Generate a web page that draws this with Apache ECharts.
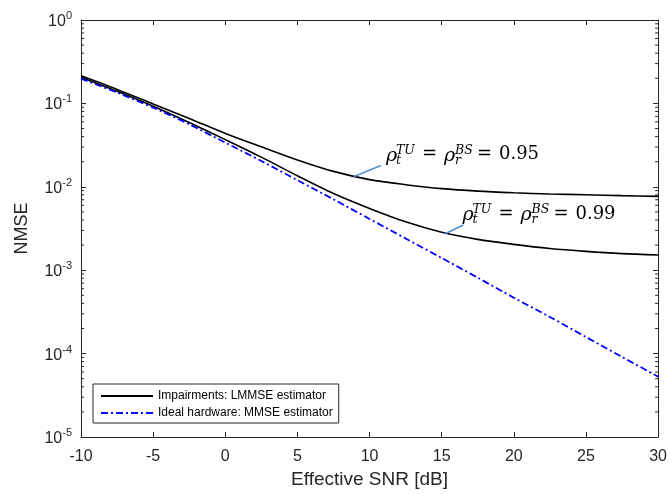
<!DOCTYPE html>
<html>
<head>
<meta charset="utf-8">
<script src="https://cdn.jsdelivr.net/npm/echarts@6/dist/echarts.min.js"></script>
<style>
html,body{margin:0;padding:0;background:#fff;}
#chart{width:670px;height:494px;}
</style>
</head>
<body>
<div id="chart"></div>
<script>
// Effective SNR [dB]
const snrDb = [-10, -7.5, -5, -2.5, 0, 2.5, 5, 7.5, 10, 12.5, 15, 17.5, 20, 22.5, 25, 27.5, 30];
// Impairments, rho = 0.95
const nmseImp095 = [0.214, 0.147, 0.0985, 0.0661, 0.0437, 0.0302, 0.0210, 0.0153, 0.0122, 0.0106, 0.00950, 0.00887, 0.00848, 0.00820, 0.00802, 0.00784, 0.00767];
// Impairments, rho = 0.99
const nmseImp099 = [0.2065, 0.1396, 0.0925, 0.0590, 0.0368, 0.0227, 0.01355, 0.00830, 0.00550, 0.00380, 0.00285, 0.00234, 0.00204, 0.00182, 0.00168, 0.00158, 0.00152];
// Ideal hardware
const nmseIdeal = [0.1977, 0.1349, 0.0891, 0.0562, 0.0339, 0.0204, 0.0120, 0.00708, 0.00412, 0.00240, 0.00140, 0.000813, 0.000468, 0.000275, 0.000158, 0.0000912, 0.0000530];

const xTicks = [-10, -5, 0, 5, 10, 15, 20, 25, 30];
const seriesNames = ['Impairments: LMMSE estimator', 'Ideal hardware: MMSE estimator'];

const axisColor = '#262626';
const font = 'Liberation Sans, Arial, sans-serif';

const minorVals = [];
for (let e = -5; e <= -1; e++) {
  for (let m = 2; m <= 9; m++) minorVals.push([-10, m * Math.pow(10, e)]);
}

function pairs(ys) { return snrDb.map((x, i) => [x, ys[i]]); }

const chart = echarts.init(document.getElementById('chart'), null, {renderer: 'canvas'});

const axisLineCommon = {show: true, onZero: false, lineStyle: {color: axisColor, width: 1}};
const tickCommon = {show: true, inside: true, length: 5, lineStyle: {color: axisColor}};

const option = {
  backgroundColor: '#fff',
  animation: false,
  grid: {left: 81, right: 8, top: 20, bottom: 53},
  legend: {
    orient: 'vertical',
    left: 93, top: 384,
    data: seriesNames,
    backgroundColor: '#fff',
    borderColor: axisColor, borderWidth: 1, borderRadius: 0,
    padding: [6, 6, 4, 7],
    itemWidth: 52, itemHeight: 14, itemGap: 5,
    itemStyle: {opacity: 0},
    textStyle: {fontFamily: font, fontSize: 12, color: '#000'}
  },
  xAxis: [{
    type: 'value', min: -10, max: 30, interval: 5, position: 'bottom',
    axisLine: axisLineCommon, axisTick: tickCommon,
    axisLabel: {
      fontFamily: font, fontSize: 16, color: axisColor, margin: 12,
      formatter: v => xTicks.includes(v) ? String(v) : ''
    },
    splitLine: {show: false},
    name: 'Effective SNR [dB]', nameLocation: 'middle', nameGap: 33,
    nameTextStyle: {fontFamily: font, fontSize: 19, color: axisColor}
  }, {
    type: 'value', min: -10, max: 30, interval: 5, position: 'top',
    axisLine: axisLineCommon, axisTick: tickCommon,
    axisLabel: {show: false}, splitLine: {show: false}
  }],
  yAxis: [{
    type: 'log', logBase: 10, min: 1e-5, max: 1, position: 'left',
    axisLine: axisLineCommon, axisTick: tickCommon,
    axisLabel: {
      margin: 9, color: axisColor,
      formatter: v => '{b|10}{s|' + Math.round(Math.log10(v)) + '}',
      rich: {
        b: {fontFamily: font, fontSize: 16, color: axisColor, lineHeight: 19, verticalAlign: 'bottom'},
        s: {fontFamily: font, fontSize: 11, color: axisColor, lineHeight: 19, verticalAlign: 'top'}
      }
    },
    splitLine: {show: false},
    name: 'NMSE', nameLocation: 'middle', nameGap: 50, nameRotate: 90,
    nameTextStyle: {fontFamily: font, fontSize: 18, color: axisColor}
  }, {
    type: 'log', logBase: 10, min: 1e-5, max: 1, position: 'right',
    axisLine: axisLineCommon, axisTick: tickCommon,
    axisLabel: {show: false}, splitLine: {show: false}
  }],
  series: [
    {
      name: seriesNames[0], type: 'line', data: pairs(nmseImp095), smooth: 0.3,
      symbol: 'none', lineStyle: {color: '#000', width: 1.6}, itemStyle: {color: '#000'}, z: 3
    },
    {
      name: seriesNames[0], type: 'line', data: pairs(nmseImp099), smooth: 0.3,
      symbol: 'none', lineStyle: {color: '#000', width: 1.6}, itemStyle: {color: '#000'}, z: 3
    },
    {
      name: seriesNames[1], type: 'line', data: pairs(nmseIdeal), smooth: 0.3,
      symbol: 'none', lineStyle: {color: '#0000ff', width: 1.8, type: [7, 3, 2, 3]}, itemStyle: {color: '#0000ff'}, z: 4
    },
    {
      name: 'minorTicks', type: 'custom', silent: true, data: minorVals,
      encode: {x: 0, y: 1},
      renderItem: function (params, api) {
        const v = api.value(1);
        const pl = api.coord([-10, v]);
        const pr = api.coord([30, v]);
        const st = {stroke: axisColor, lineWidth: 1};
        return {
          type: 'group',
          children: [
            {type: 'line', shape: {x1: pl[0], y1: pl[1], x2: pl[0] + 3, y2: pl[1]}, style: st},
            {type: 'line', shape: {x1: pr[0], y1: pr[1], x2: pr[0] - 3, y2: pr[1]}, style: st}
          ]
        };
      }
    }
  ]
};
chart.setOption(option);

// Annotations (data-space anchors)
const annotations = [
  {value: '0.95', text: [11.14, 0.0243], lead: [[8.93, 0.0133], [10.79, 0.0180]]},
  {value: '0.99', text: [16.44, 0.0047], lead: [[15.2, 0.00272], [16.5, 0.00348]]}
];
const serif = 'DejaVu Serif, Liberation Serif, serif';
const graphics = [];
annotations.forEach(a => {
  const p = chart.convertToPixel({xAxisIndex: 0, yAxisIndex: 0}, a.text);
  const l1 = chart.convertToPixel({xAxisIndex: 0, yAxisIndex: 0}, a.lead[0]);
  const l2 = chart.convertToPixel({xAxisIndex: 0, yAxisIndex: 0}, a.lead[1]);
  graphics.push({type: 'line', shape: {x1: l1[0], y1: l1[1], x2: l2[0], y2: l2[1]},
    style: {stroke: '#4f8fcf', lineWidth: 1.5}, z: 10});
  const x = p[0], y = p[1];
  const mk = (t, dx, dy, size, italic) => ({
    type: 'text', x: x + dx, y: y + dy, z: 10,
    style: {text: t, fontFamily: serif, fontSize: size, fontStyle: italic ? 'italic' : 'normal',
      fill: '#000', align: 'left', verticalAlign: 'middle'}
  });
  graphics.push(mk('\u03C1', 0, 1, 19, true));
  graphics.push(mk('TU', 10, -4, 12.5, true));
  graphics.push(mk('t', 10, 6, 12.5, true));
  graphics.push(mk('=', 36, 0, 18, false));
  graphics.push(mk('\u03C1', 58, 1, 19, true));
  graphics.push(mk('BS', 69, -4, 12.5, true));
  graphics.push(mk('r', 69, 6, 12.5, true));
  graphics.push(mk('=', 91, 0, 18, false));
  graphics.push(mk(a.value, 113, 0, 18, false));
});
chart.setOption({graphic: graphics});
</script>
</body>
</html>
